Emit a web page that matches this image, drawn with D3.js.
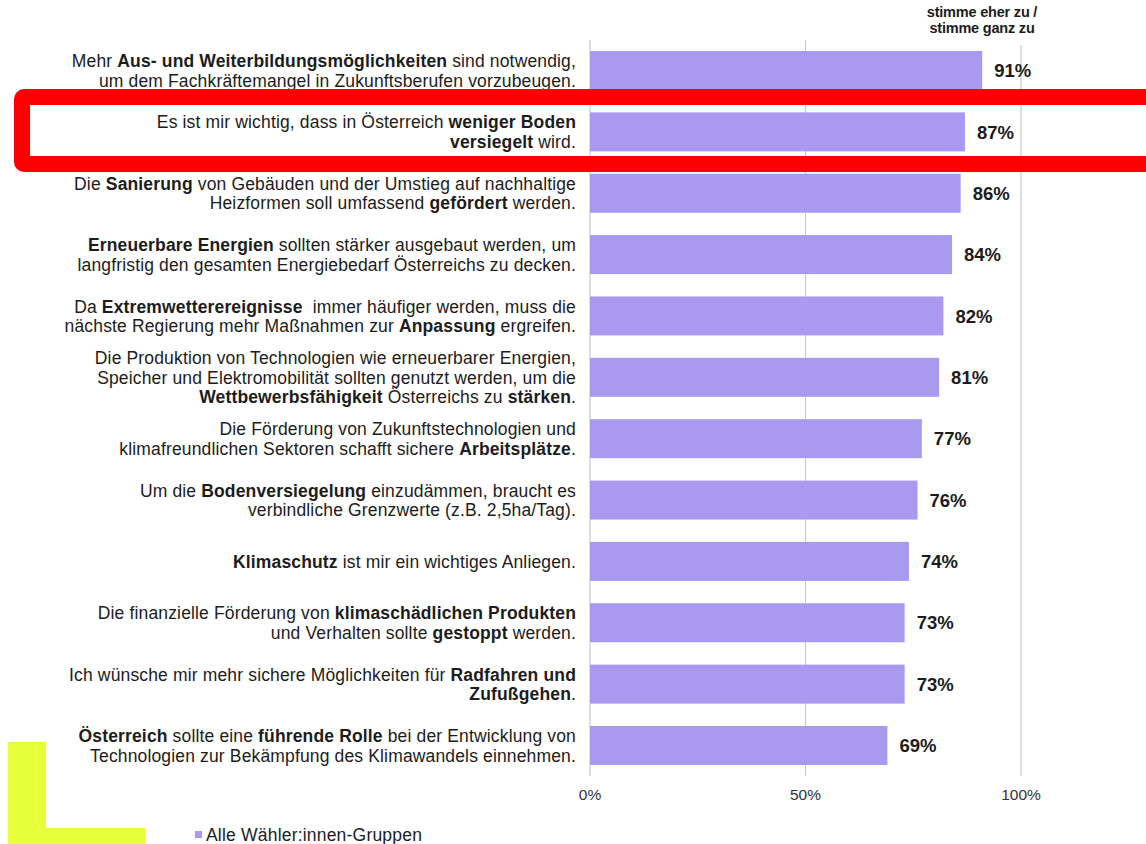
<!DOCTYPE html>
<html lang="de">
<head>
<meta charset="utf-8">
<script src="https://cdn.jsdelivr.net/npm/d3@7"></script>
<style>
  html, body { margin: 0; padding: 0; background: #fff; }
  svg { display: block; }
  text { font-family: "Liberation Sans", Arial, sans-serif; fill: #1c1c1c; }
</style>
</head>
<body>
<svg id="chart" width="1146" height="844"></svg>
<script>
// Statements (each entry = lines of the label; **…** marks bold text)
const statements = [
  ["Mehr **Aus- und Weiterbildungsmöglichkeiten** sind notwendig,", "um dem Fachkräftemangel in Zukunftsberufen vorzubeugen."],
  ["Es ist mir wichtig, dass in Österreich **weniger Boden**", "**versiegelt** wird."],
  ["Die **Sanierung** von Gebäuden und der Umstieg auf nachhaltige", "Heizformen soll umfassend **gefördert** werden."],
  ["**Erneuerbare Energien** sollten stärker ausgebaut werden, um", "langfristig den gesamten Energiebedarf Österreichs zu decken."],
  ["Da **Extremwetterereignisse**  immer häufiger werden, muss die", "nächste Regierung mehr Maßnahmen zur **Anpassung** ergreifen."],
  ["Die Produktion von Technologien wie erneuerbarer Energien,", "Speicher und Elektromobilität sollten genutzt werden, um die", "**Wettbewerbsfähigkeit** Österreichs zu **stärken**."],
  ["Die Förderung von Zukunftstechnologien und", "klimafreundlichen Sektoren schafft sichere **Arbeitsplätze**."],
  ["Um die **Bodenversiegelung** einzudämmen, braucht es", "verbindliche Grenzwerte (z.B. 2,5ha/Tag)."],
  ["**Klimaschutz** ist mir ein wichtiges Anliegen."],
  ["Die finanzielle Förderung von **klimaschädlichen Produkten**", "und Verhalten sollte **gestoppt** werden."],
  ["Ich wünsche mir mehr sichere Möglichkeiten für **Radfahren und**", "**Zufußgehen**."],
  ["**Österreich** sollte eine **führende Rolle** bei der Entwicklung von", "Technologien zur Bekämpfung des Klimawandels einnehmen."]
];

// Share "stimme eher zu / stimme ganz zu", all voter groups (%)
const agreeShare = [91, 87, 86, 84, 82, 81, 77, 76, 74, 73, 73, 69];

const axisTicks = [0, 50, 100];
const headerLines = ["stimme eher zu /", "stimme ganz zu"];
const legendLabel = "Alle Wähler:innen-Gruppen";

const barColor = "#a99af0";
const svg = d3.select("#chart");

const x = d3.scaleLinear().domain([0, 100]).range([590, 1021]);
const y = d3.scalePoint().domain(d3.range(statements.length)).range([70.5, 745.5]);
const barH = 39;

// decorative corner shape
svg.append("path")
  .attr("d", "M8,742H46V828H145V844H8Z")
  .attr("fill", "#e5ff3a");

// grid lines
svg.append("g").selectAll("line").data(axisTicks).join("line")
  .attr("x1", d => x(d)).attr("x2", d => x(d))
  .attr("y1", d => d === 100 ? 45 : 40).attr("y2", 776)
  .attr("stroke", "#c9c9c9").attr("stroke-width", 1.2);

// bars
svg.append("g").selectAll("rect").data(agreeShare).join("rect")
  .attr("x", x(0)).attr("y", (d, i) => y(i) - barH / 2)
  .attr("width", d => x(d) - x(0)).attr("height", barH)
  .attr("fill", barColor);

// value labels
svg.append("g").selectAll("text").data(agreeShare).join("text")
  .attr("x", d => x(d) + 12).attr("y", (d, i) => y(i))
  .attr("dy", "0.36em")
  .attr("font-size", 18.5).attr("font-weight", "bold")
  .text(d => d + "%");

// statement labels, right-aligned with bold runs
const lineH = 19.5;
const labels = svg.append("g");
statements.forEach((lines, i) => {
  const y0 = y(i) - (lines.length - 1) * lineH / 2;
  lines.forEach((line, j) => {
    const t = labels.append("text")
      .attr("x", 576).attr("y", y0 + j * lineH).attr("dy", "0.36em")
      .attr("text-anchor", "end")
      .attr("font-size", 17.5).attr("letter-spacing", 0.15)
      .attr("xml:space", "preserve");
    line.split("**").forEach((part, k) => {
      if (!part) return;
      t.append("tspan").attr("font-weight", k % 2 ? "bold" : "normal").text(part);
    });
  });
});

// axis tick labels
svg.append("g").selectAll("text").data(axisTicks).join("text")
  .attr("x", d => x(d)).attr("y", 794).attr("dy", "0.36em")
  .attr("text-anchor", "middle").attr("font-size", 15.5)
  .style("fill", "#333")
  .text(d => d + "%");

// column header
svg.append("g").selectAll("text").data(headerLines).join("text")
  .attr("x", 982).attr("y", (d, i) => 12 + i * 16).attr("dy", "0.36em")
  .attr("text-anchor", "middle").attr("font-size", 14.5).attr("font-weight", "bold")
  .attr("letter-spacing", -0.2)
  .text(d => d);

// legend
svg.append("rect").attr("x", 195).attr("y", 831).attr("width", 7).attr("height", 7).attr("fill", barColor);
svg.append("text").attr("x", 206).attr("y", 835).attr("dy", "0.36em")
  .attr("font-size", 17.5).attr("letter-spacing", 0.2).text(legendLabel);

// highlight frame around the second statement
svg.append("rect")
  .attr("x", 22).attr("y", 97).attr("width", 1200).attr("height", 67)
  .attr("rx", 2)
  .attr("fill", "none").attr("stroke", "#ff0000").attr("stroke-width", 16);
</script>
</body>
</html>
